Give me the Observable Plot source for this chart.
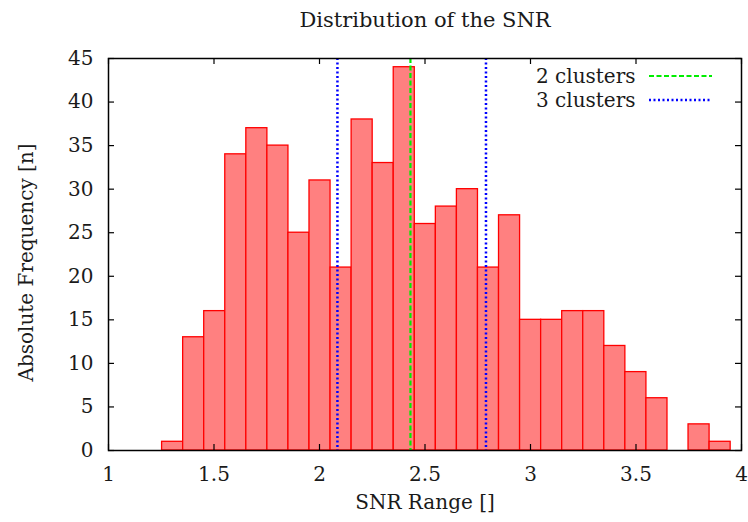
<!DOCTYPE html>
<html><head><meta charset="utf-8">
<script src="https://cdn.jsdelivr.net/npm/d3@7"></script>
<script src="https://cdn.jsdelivr.net/npm/@observablehq/plot@0.6"></script>
<style>body{margin:0;background:#fff}</style>
</head><body><div id="chart"></div>
<script>
const title = "Distribution of the SNR";
const xLabel = "SNR Range []";
const yLabel = "Absolute Frequency [n]";
const binStart = 1.254;
const binWidth = 0.0998;
const counts = [1, 13, 16, 34, 37, 35, 25, 31, 21, 38, 33, 44, 26, 28, 30, 21, 27, 15, 15, 16, 16, 12, 9, 6, 0, 3, 1];
const xTicks = [1, 1.5, 2, 2.5, 3, 3.5, 4];
const yTicks = [0, 5, 10, 15, 20, 25, 30, 35, 40, 45];
const twoClusters = [2.431];
const threeClusters = [2.085, 2.789];
const legendLabels = ["2 clusters", "3 clusters"];

const bars = counts.map((c, i) => ({x1: binStart + i * binWidth, x2: binStart + (i + 1) * binWidth, y: c})).filter(d => d.y > 0);
const font = "DejaVu Serif";
const txt = "#1a1a1a";
const W = 748, H = 522, ML = 108, MR = 7, MT = 58, MB = 72;
const FW = W - ML - MR, FH = H - MT - MB;
const green = "#00ee00", blue = "#0000ff";
const greenDash = "5,2.5", blueDash = "2,2.5";

const svg = Plot.plot({
  width: W, height: H,
  marginLeft: ML, marginRight: MR, marginTop: MT, marginBottom: MB,
  style: {fontFamily: font, fontSize: "20px", color: txt, background: "#fff"},
  x: {domain: [1, 4], ticks: xTicks},
  y: {domain: [0, 45], ticks: yTicks},
  marks: [
    Plot.rectY(bars, {x1: "x1", x2: "x2", y: "y", fill: "#ff8080", stroke: "#ff0000", strokeWidth: 1.3}),
    Plot.ruleX(twoClusters, {stroke: green, strokeWidth: 2.2, strokeDasharray: greenDash}),
    Plot.ruleX(threeClusters, {stroke: blue, strokeWidth: 2.5, strokeDasharray: blueDash}),
    Plot.frame({stroke: "#000", strokeWidth: 1.5}),
    Plot.tickX(xTicks, {x: d => d, insetTop: FH - 6, stroke: "#000", strokeWidth: 1.2}),
    Plot.tickX(xTicks, {x: d => d, insetBottom: FH - 6, stroke: "#000", strokeWidth: 1.2}),
    Plot.tickY(yTicks, {y: d => d, insetRight: FW - 6, stroke: "#000", strokeWidth: 1.2}),
    Plot.tickY(yTicks, {y: d => d, insetLeft: FW - 6, stroke: "#000", strokeWidth: 1.2}),
    Plot.axisX(xTicks, {anchor: "bottom", tickSize: 0, tickPadding: 16, label: null, tickFormat: d => String(d), fontSize: 20, fill: txt}),
    Plot.axisY(yTicks, {anchor: "left", tickSize: 0, tickPadding: 15, label: null, tickFormat: d => String(d), fontSize: 20, fill: txt}),
    Plot.text([title], {frameAnchor: "top", lineAnchor: "middle", dy: -38, fontSize: 21, fill: txt}),
    Plot.text([xLabel], {frameAnchor: "bottom", lineAnchor: "middle", dy: 52, fontSize: 20, fill: txt}),
    Plot.text([yLabel], {frameAnchor: "left", textAnchor: "middle", lineAnchor: "middle", dx: -82, dy: 8, rotate: -90, fontSize: 20, fill: txt}),
    Plot.text([legendLabels[0]], {frameAnchor: "top-right", textAnchor: "end", lineAnchor: "middle", dx: -106, dy: 18, fontSize: 20, fill: txt}),
    Plot.text([legendLabels[1]], {frameAnchor: "top-right", textAnchor: "end", lineAnchor: "middle", dx: -106, dy: 42, fontSize: 20, fill: txt})
  ]
});
const s = d3.select(svg);
const lx1 = W - MR - 92, lx2 = W - MR - 29;
s.append("line").attr("x1", lx1).attr("x2", lx2).attr("y1", MT + 18).attr("y2", MT + 18)
  .attr("stroke", green).attr("stroke-width", 2.2).attr("stroke-dasharray", greenDash);
s.append("line").attr("x1", lx1).attr("x2", lx2).attr("y1", MT + 42).attr("y2", MT + 42)
  .attr("stroke", blue).attr("stroke-width", 2.5).attr("stroke-dasharray", blueDash);
document.getElementById("chart").appendChild(svg);
</script>
</body></html>
